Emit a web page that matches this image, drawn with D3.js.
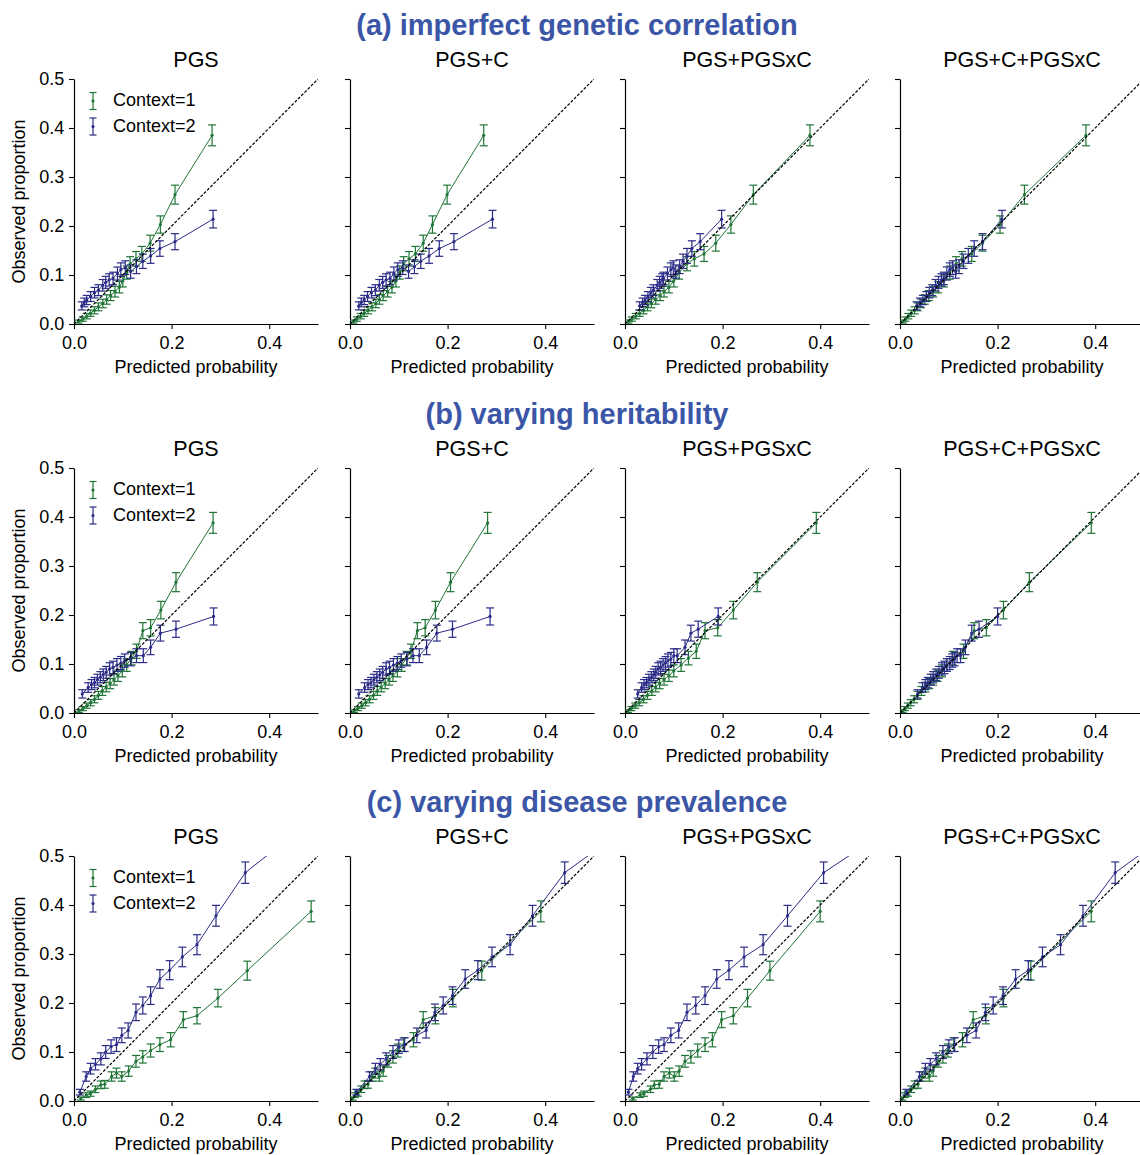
<!DOCTYPE html>
<html><head><meta charset="utf-8">
<script src="https://cdn.jsdelivr.net/npm/d3@7"></script>
<style>body{margin:0;background:#fff} text{font-family:"Liberation Sans",Arial,sans-serif}</style>
</head><body><svg id="c" width="1140" height="1155"></svg>
<script>
// ---------- data ----------
const sectionTitles = ["(a) imperfect genetic correlation", "(b) varying heritability", "(c) varying disease prevalence"];
const panelTitles = ["PGS", "PGS+C", "PGS+PGSxC", "PGS+C+PGSxC"];
const seriesNames = ["Context=1", "Context=2"];
const xTicks = [0.0, 0.2, 0.4];
const yTicks = [0.0, 0.1, 0.2, 0.3, 0.4, 0.5];
const xLabel = "Predicted probability";
const yLabel = "Observed proportion";
const binSize = 2000; // individuals per bin, used for the 95% binomial CI

// row (a): observed proportions per bin
const obsA1 = [0.005, 0.010, 0.016, 0.022, 0.028, 0.035, 0.042, 0.050, 0.058, 0.066, 0.075, 0.088, 0.105, 0.123, 0.133, 0.143, 0.165, 0.203, 0.264, 0.385];
const obsA2 = [0.037, 0.044, 0.049, 0.056, 0.064, 0.069, 0.079, 0.085, 0.090, 0.093, 0.103, 0.111, 0.115, 0.107, 0.117, 0.128, 0.139, 0.154, 0.168, 0.214];
// row (a): predicted probabilities per model
const predA1_PGS = [0.009, 0.018, 0.026, 0.034, 0.042, 0.050, 0.059, 0.067, 0.075, 0.084, 0.093, 0.100, 0.108, 0.115, 0.127, 0.139, 0.156, 0.177, 0.207, 0.283];
const predA2_PGS = [0.016, 0.021, 0.026, 0.034, 0.042, 0.050, 0.059, 0.065, 0.072, 0.080, 0.089, 0.096, 0.105, 0.116, 0.128, 0.141, 0.157, 0.176, 0.207, 0.285];
const predA1_PGSC = [0.007, 0.014, 0.022, 0.029, 0.037, 0.045, 0.053, 0.060, 0.068, 0.077, 0.086, 0.094, 0.102, 0.110, 0.121, 0.134, 0.150, 0.169, 0.199, 0.274];
const predA2_PGSC = [0.018, 0.023, 0.029, 0.036, 0.044, 0.052, 0.060, 0.067, 0.074, 0.082, 0.090, 0.098, 0.108, 0.120, 0.132, 0.145, 0.162, 0.183, 0.213, 0.292];
const predA1_PGSxC = [0.007, 0.014, 0.022, 0.030, 0.038, 0.046, 0.054, 0.063, 0.072, 0.080, 0.090, 0.100, 0.111, 0.127, 0.142, 0.162, 0.186, 0.217, 0.263, 0.379];
const predA2_PGSxC = [0.030, 0.036, 0.041, 0.047, 0.053, 0.058, 0.066, 0.071, 0.076, 0.079, 0.087, 0.094, 0.099, 0.104, 0.112, 0.119, 0.127, 0.137, 0.154, 0.198];
const predA1_full = [0.006, 0.011, 0.017, 0.023, 0.030, 0.036, 0.043, 0.051, 0.059, 0.068, 0.078, 0.090, 0.102, 0.115, 0.127, 0.147, 0.169, 0.205, 0.255, 0.381];
const predA2_full = [0.034, 0.041, 0.047, 0.054, 0.060, 0.066, 0.073, 0.079, 0.085, 0.090, 0.096, 0.102, 0.108, 0.114, 0.121, 0.130, 0.140, 0.152, 0.169, 0.209];

// row (b)
const obsB1 = [0.004, 0.009, 0.015, 0.021, 0.028, 0.036, 0.045, 0.053, 0.060, 0.068, 0.076, 0.086, 0.098, 0.112, 0.126, 0.168, 0.174, 0.210, 0.267, 0.388];
const obsB2 = [0.039, 0.052, 0.058, 0.062, 0.068, 0.073, 0.078, 0.083, 0.090, 0.093, 0.098, 0.102, 0.107, 0.110, 0.117, 0.117, 0.134, 0.163, 0.171, 0.197];
const predB1_PGS = [0.010, 0.018, 0.026, 0.034, 0.042, 0.050, 0.058, 0.066, 0.074, 0.082, 0.090, 0.099, 0.108, 0.118, 0.128, 0.141, 0.157, 0.178, 0.209, 0.285];
const predB2_PGS = [0.017, 0.029, 0.036, 0.042, 0.048, 0.054, 0.060, 0.066, 0.073, 0.080, 0.088, 0.096, 0.104, 0.116, 0.128, 0.142, 0.157, 0.177, 0.209, 0.286];
const predB1_PGSC = [0.008, 0.016, 0.024, 0.032, 0.040, 0.048, 0.056, 0.064, 0.072, 0.080, 0.088, 0.097, 0.106, 0.116, 0.125, 0.138, 0.154, 0.175, 0.206, 0.282];
const predB2_PGSC = [0.018, 0.030, 0.037, 0.043, 0.049, 0.055, 0.061, 0.067, 0.074, 0.081, 0.089, 0.097, 0.105, 0.117, 0.129, 0.142, 0.157, 0.178, 0.210, 0.287];
const predB1_PGSxC = [0.006, 0.013, 0.021, 0.029, 0.038, 0.046, 0.055, 0.063, 0.071, 0.080, 0.090, 0.100, 0.115, 0.130, 0.146, 0.164, 0.190, 0.222, 0.271, 0.392];
const predB2_PGSxC = [0.026, 0.034, 0.039, 0.044, 0.049, 0.054, 0.059, 0.063, 0.068, 0.073, 0.078, 0.083, 0.088, 0.094, 0.100, 0.107, 0.123, 0.135, 0.150, 0.191];
const predB1_full = [0.005, 0.010, 0.016, 0.022, 0.029, 0.036, 0.044, 0.052, 0.060, 0.068, 0.077, 0.086, 0.096, 0.108, 0.130, 0.152, 0.177, 0.212, 0.265, 0.392];
const predB2_full = [0.036, 0.046, 0.052, 0.057, 0.063, 0.068, 0.074, 0.080, 0.086, 0.091, 0.096, 0.102, 0.107, 0.112, 0.117, 0.124, 0.134, 0.147, 0.162, 0.200];

// row (c)
const obsC1 = [0.005, 0.012, 0.015, 0.024, 0.033, 0.034, 0.050, 0.057, 0.050, 0.061, 0.081, 0.090, 0.103, 0.115, 0.125, 0.166, 0.174, 0.210, 0.266, 0.387];
const obsC2 = [0.018, 0.050, 0.066, 0.075, 0.086, 0.100, 0.111, 0.115, 0.134, 0.144, 0.181, 0.195, 0.215, 0.249, 0.267, 0.294, 0.319, 0.378, 0.466, 0.600];
const predC1_PGS = [0.014, 0.025, 0.034, 0.044, 0.055, 0.063, 0.077, 0.087, 0.098, 0.112, 0.127, 0.141, 0.157, 0.176, 0.198, 0.224, 0.252, 0.295, 0.355, 0.486];
const predC2_PGS = [0.012, 0.025, 0.034, 0.044, 0.055, 0.065, 0.076, 0.087, 0.098, 0.111, 0.127, 0.141, 0.157, 0.176, 0.196, 0.222, 0.252, 0.291, 0.351, 0.521];
const predC1_PGSC = [0.005, 0.010, 0.016, 0.023, 0.030, 0.037, 0.045, 0.052, 0.060, 0.068, 0.078, 0.088, 0.098, 0.110, 0.130, 0.150, 0.175, 0.211, 0.270, 0.391];
const predC2_PGSC = [0.013, 0.040, 0.052, 0.062, 0.074, 0.088, 0.100, 0.112, 0.137, 0.156, 0.174, 0.191, 0.210, 0.236, 0.262, 0.291, 0.328, 0.374, 0.440, 0.626];
const predC1_PGSxC = [0.016, 0.031, 0.039, 0.052, 0.060, 0.070, 0.080, 0.091, 0.101, 0.111, 0.123, 0.135, 0.149, 0.164, 0.179, 0.198, 0.222, 0.251, 0.297, 0.400];
const predC2_PGSxC = [0.007, 0.017, 0.026, 0.034, 0.045, 0.057, 0.069, 0.080, 0.094, 0.110, 0.127, 0.145, 0.164, 0.188, 0.213, 0.244, 0.283, 0.333, 0.407, 0.610];
const predC1_full = [0.005, 0.010, 0.016, 0.023, 0.030, 0.037, 0.045, 0.052, 0.060, 0.068, 0.078, 0.088, 0.098, 0.110, 0.128, 0.150, 0.176, 0.212, 0.268, 0.392];
const predC2_full = [0.013, 0.040, 0.052, 0.062, 0.074, 0.088, 0.100, 0.112, 0.137, 0.156, 0.175, 0.191, 0.211, 0.237, 0.263, 0.292, 0.329, 0.375, 0.441, 0.626];

const rows = [
  {obs: [obsA1, obsA2], pred: [[predA1_PGS, predA2_PGS], [predA1_PGSC, predA2_PGSC], [predA1_PGSxC, predA2_PGSxC], [predA1_full, predA2_full]]},
  {obs: [obsB1, obsB2], pred: [[predB1_PGS, predB2_PGS], [predB1_PGSC, predB2_PGSC], [predB1_PGSxC, predB2_PGSxC], [predB1_full, predB2_full]]},
  {obs: [obsC1, obsC2], pred: [[predC1_PGS, predC2_PGS], [predC1_PGSC, predC2_PGSC], [predC1_PGSxC, predC2_PGSxC], [predC1_full, predC2_full]]}
];

// ---------- layout / style ----------
const colors = ["#1f7536", "#2b2b88"];
const titleColor = "#3b56a6";
const colX = [74, 350, 625, 900];
const rowTop = [79, 468, 856];
const W = 244, H = 245;
const FONT = '"Liberation Sans",Arial,sans-serif';

const svg = d3.select("#c");
const x = d3.scaleLinear().domain([0, 0.5]).range([0, W]);
const y = d3.scaleLinear().domain([0, 0.5]).range([H, 0]);
const fmt = d3.format(".1f");
const ci = p => 1.96 * Math.sqrt(p * (1 - p) / binSize);

const defs = svg.append("defs");
defs.append("clipPath").attr("id", "clip").append("rect").attr("x", 0).attr("y", 0).attr("width", W).attr("height", H);

rows.forEach((row, r) => {
  svg.append("text").attr("x", 577).attr("y", rowTop[r] - 44)
    .attr("text-anchor", "middle").attr("font-size", 29).attr("font-weight", "bold")
    .attr("fill", titleColor).text(sectionTitles[r]);

  panelTitles.forEach((pt, c) => {
    const g = svg.append("g").attr("transform", `translate(${colX[c]},${rowTop[r]})`);
    g.append("text").attr("x", W / 2).attr("y", -12).attr("text-anchor", "middle")
      .attr("font-size", 21.5).attr("fill", "#000").text(pt);

    // axes
    const xa = g.append("g").attr("transform", `translate(0,${H})`)
      .call(d3.axisBottom(x).tickValues(xTicks).tickFormat(fmt).tickSize(5).tickSizeOuter(0));
    const ya = g.append("g")
      .call(d3.axisLeft(y).tickValues(yTicks).tickFormat(c === 0 ? fmt : () => "").tickSize(5).tickSizeOuter(0));
    [xa, ya].forEach(a => {
      a.selectAll("text").attr("font-size", 18).attr("fill", "#000").attr("font-family", FONT);
      a.select(".domain").attr("stroke", "#000").attr("stroke-width", 1.2);
      a.selectAll(".tick line").attr("stroke", "#000").attr("stroke-width", 1.1);
    });
    xa.selectAll("text").attr("dy", "0.95em");
    ya.selectAll("text").attr("dx", "-0.1em");

    g.append("text").attr("x", W / 2).attr("y", H + 49).attr("text-anchor", "middle")
      .attr("font-size", 18).attr("fill", "#000").text(xLabel);
    if (c === 0) {
      g.append("text").attr("transform", `translate(-54,${H / 2}) rotate(-90)`)
        .attr("text-anchor", "middle").attr("dominant-baseline", "middle")
        .attr("font-size", 18).attr("fill", "#000").text(yLabel);
    }

    const plot = g.append("g").attr("clip-path", "url(#clip)");
    [0, 1].forEach(s => {
      const obs = row.obs[s], pred = row.pred[c][s];
      const pts = obs.map((o, i) => ({px: pred[i], o: o, e: ci(o)}));
      const col = colors[s];
      const sg = plot.append("g");
      sg.append("path").datum(pts)
        .attr("d", d3.line().x(d => x(d.px)).y(d => y(d.o)))
        .attr("fill", "none").attr("stroke", col).attr("stroke-width", 1);
      const eb = sg.selectAll(".eb").data(pts).join("g").attr("class", "eb");
      eb.append("line").attr("x1", d => x(d.px)).attr("x2", d => x(d.px))
        .attr("y1", d => y(d.o - d.e)).attr("y2", d => y(d.o + d.e))
        .attr("stroke", col).attr("stroke-width", 1.2);
      [-1, 1].forEach(k => {
        eb.append("line").attr("x1", d => x(d.px) - 4).attr("x2", d => x(d.px) + 4)
          .attr("y1", d => y(d.o + k * d.e)).attr("y2", d => y(d.o + k * d.e))
          .attr("stroke", col).attr("stroke-width", 1.2);
      });
      eb.append("circle").attr("cx", d => x(d.px)).attr("cy", d => y(d.o)).attr("r", 1.6).attr("fill", col);
    });
    // reference diagonal
    plot.append("line").attr("x1", x(0)).attr("y1", y(0)).attr("x2", x(0.5)).attr("y2", y(0.5))
      .attr("stroke", "#000").attr("stroke-width", 1.2).attr("stroke-dasharray", "3,1.6");

    // legend
    if (c === 0) {
      const lg = g.append("g");
      seriesNames.forEach((nm, s) => {
        const cy = 22 + s * 25.5, lx = 19;
        lg.append("line").attr("x1", lx).attr("x2", lx).attr("y1", cy - 8.5).attr("y2", cy + 8.5).attr("stroke", colors[s]).attr("stroke-width", 1.2);
        [-8.5, 8.5].forEach(dy => lg.append("line").attr("x1", lx - 3.5).attr("x2", lx + 3.5).attr("y1", cy + dy).attr("y2", cy + dy).attr("stroke", colors[s]).attr("stroke-width", 1.2));
        lg.append("circle").attr("cx", lx).attr("cy", cy).attr("r", 1.6).attr("fill", colors[s]);
        lg.append("text").attr("x", 39).attr("y", cy + 0.5).attr("dominant-baseline", "middle")
          .attr("font-size", 18).attr("fill", "#000").text(nm);
      });
    }
  });
});
</script></body></html>
